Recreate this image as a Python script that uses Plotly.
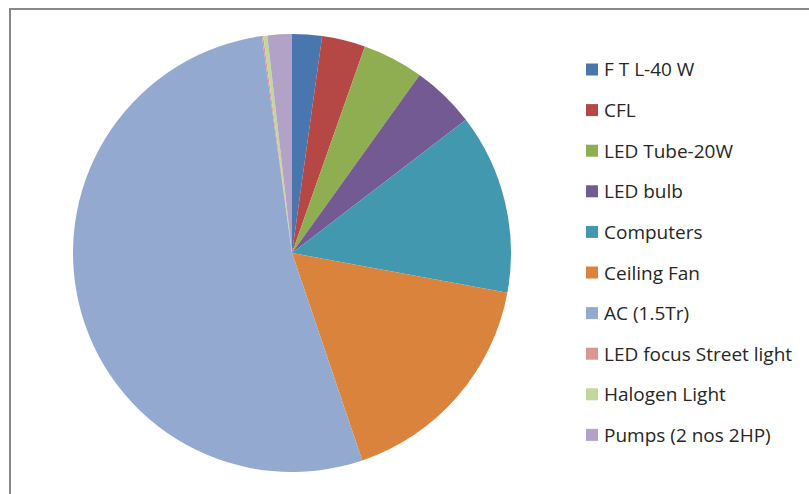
import plotly.graph_objects as go

W, H = 809, 494

categories = ["F T L-40 W", "CFL", "LED Tube-20W", "LED bulb", "Computers",
              "Ceiling Fan", "AC (1.5Tr)", "LED focus Street light",
              "Halogen Light", "Pumps (2 nos 2HP)"]
shares = [2.2, 3.2, 4.5, 4.7, 13.3, 16.9, 53.0, 0.1, 0.3, 1.8]
colors = ["#4A76AE", "#B54845", "#8FAE52", "#735A92", "#4198AF",
          "#DA833C", "#93A9CF", "#D99694", "#C3D69B", "#B3A2C7"]

def px(x):
    return x / W

def py(y):
    return 1 - y / H

fig = go.Figure()
fig.add_trace(go.Pie(
    labels=categories, values=shares, sort=False, direction="clockwise",
    rotation=0, textinfo="none", hoverinfo="label+percent",
    marker=dict(colors=colors, line=dict(width=0)),
    domain=dict(x=[px(73), px(511)], y=[py(472), py(34)]),
    showlegend=False,
))

shapes = [
    dict(type="line", xref="paper", yref="paper", x0=px(10), x1=px(10), y0=py(500), y1=py(8),
         line=dict(color="#888888", width=2)),
    dict(type="line", xref="paper", yref="paper", x0=px(9), x1=px(815), y0=py(9), y1=py(9),
         line=dict(color="#888888", width=2)),
]
annotations = []
y0, dy = 69.5, 40.6
for i, (lab, col) in enumerate(zip(categories, colors)):
    yc = y0 + i * dy
    shapes.append(dict(type="rect", xref="paper", yref="paper",
                       x0=px(586), x1=px(598), y0=py(yc + 6), y1=py(yc - 6),
                       fillcolor=col, line=dict(width=0)))
    annotations.append(dict(xref="paper", yref="paper", x=px(602), y=py(yc),
                            xanchor="left", yanchor="middle", text=lab, showarrow=False,
                            font=dict(family="Open Sans, Liberation Sans, sans-serif", size=19,
                                      color="#262626")))

fig.update_layout(
    width=W, height=H, margin=dict(l=0, r=0, t=0, b=0),
    paper_bgcolor="white", plot_bgcolor="white",
    shapes=shapes, annotations=annotations,
)
fig.write_html("out.html", config={"displayModeBar": False},
               post_script="document.body.style.margin='0';")
